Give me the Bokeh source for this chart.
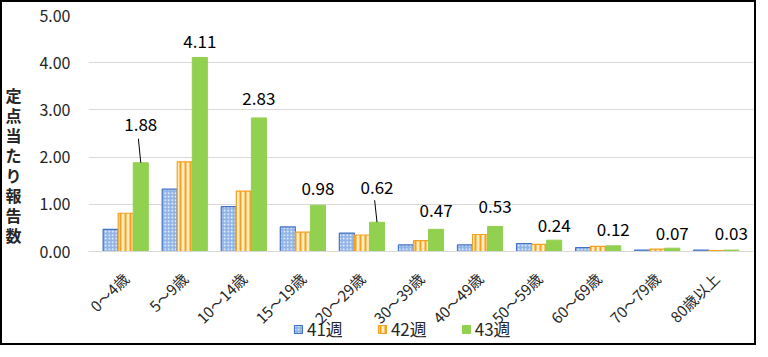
from bokeh.plotting import figure
from bokeh.models import (ColumnDataSource, FactorRange, Legend, LegendItem, NumeralTickFormatter,
                          FixedTicker, LinearAxis, Range1d)
from bokeh.transform import dodge
from bokeh.core.properties import value
from bokeh.embed import file_html
from bokeh.resources import INLINE

# ---------------- data ----------------
categories = ["0～4歳", "5～9歳", "10～14歳", "15～19歳", "20～29歳", "30～39歳",
              "40～49歳", "50～59歳", "60～69歳", "70～79歳", "80歳以上"]
series_names = ["41週", "42週", "43週"]
week41 = [0.47, 1.32, 0.95, 0.52, 0.39, 0.14, 0.14, 0.17, 0.08, 0.03, 0.03]
week42 = [0.81, 1.90, 1.28, 0.41, 0.35, 0.23, 0.36, 0.15, 0.11, 0.05, 0.02]
week43 = [1.88, 4.11, 2.83, 0.98, 0.62, 0.47, 0.53, 0.24, 0.12, 0.07, 0.03]
y_ticks = [0, 1, 2, 3, 4, 5]
y_title = "定点当たり報告数"

# label styling (pixels above the bar top) and leader lines (pixels)
label_lift = [38, 16, 19, 17, 35, 19, 20, 15, 16, 15, 17]
leader_px = [24, 0, 0, 0, 22, 0, 0, 0, 0, 0, 0]

FONT = "Noto Sans CJK JP"
TXT = "#262626"
W, H = 756, 345
FL, FR, FT, FB = 70, 5, 13, 0
ZERO_PX = 249                      # canvas row of the value 0 line
frame_top, frame_bottom = FT, H - FB
ymax = 5.0
px_per_unit = (ZERO_PX - frame_top) / ymax
ymin = -(frame_bottom - ZERO_PX) / px_per_unit
units_per_px = 1.0 / px_per_unit

src = ColumnDataSource(dict(
    cat=categories, w41=week41, w42=week42, w43=week43,
    lab=[f"{v:.2f}" for v in week43],
    yoff=[-l for l in label_lift],
))

xr = FactorRange(*categories, range_padding=0.26 / len(categories), range_padding_units="percent")
p = figure(x_range=xr, y_range=Range1d(ymin, ymax),
           width=W, height=H, output_backend="svg", toolbar_location=None,
           min_border_left=FL, min_border_right=FR, min_border_top=FT, min_border_bottom=FB,
           styles={"border": "2px solid #000000"})
p.outline_line_color = None
p.background_fill_color = "white"
p.border_fill_color = "white"

bw = 0.255
r41 = p.vbar(x=dodge("cat", -bw, range=p.x_range), top="w41", width=bw, source=src,
             fill_color="#8FB3E6", line_color="#4472C4", line_width=1.2,
             hatch_pattern="dot", hatch_color="white", hatch_scale=3.5, hatch_weight=1.2)
r42 = p.vbar(x=dodge("cat", 0, range=p.x_range), top="w42", width=bw, source=src,
             fill_color="#FFEDC2", line_color="#F4A020", line_width=1.2,
             hatch_pattern="vertical_line", hatch_color="#F4A020", hatch_scale=5, hatch_weight=2)
r43 = p.vbar(x=dodge("cat", bw, range=p.x_range), top="w43", width=bw, source=src,
             fill_color="#92D050", line_color="#92D050")

# data labels
p.text(x=dodge("cat", bw, range=p.x_range), y="w43", text="lab", y_offset="yoff", source=src,
       text_align="center", text_baseline="middle", text_font=value(FONT),
       text_font_size="17px", text_color="#000000")

# leader lines
lx = [c for c, l in zip(categories, leader_px) if l > 0]
ly0 = [v for v, l in zip(week43, leader_px) if l > 0]
ly1 = [v + l * units_per_px for v, l in zip(week43, leader_px) if l > 0]
lsrc = ColumnDataSource(dict(cat=lx, y0=ly0, y1=ly1))
p.segment(x0=dodge("cat", bw, range=p.x_range), x1=dodge("cat", bw - 0.04, range=p.x_range),
          y0="y0", y1="y1", source=lsrc, line_color="#000000", line_width=1)

# axes
p.yaxis.ticker = FixedTicker(ticks=y_ticks)
p.yaxis.formatter = NumeralTickFormatter(format="0.00")
p.yaxis.axis_line_color = None
p.yaxis.major_tick_line_color = None
p.yaxis.minor_tick_line_color = None
p.yaxis.major_label_standoff = 12
p.yaxis.major_label_text_font = FONT
p.yaxis.major_label_text_font_size = "16px"
p.yaxis.major_label_text_color = TXT

p.xaxis.fixed_location = 0
p.xaxis.axis_line_color = "#D9D9D9"
p.xaxis.major_tick_line_color = None
p.xaxis.minor_tick_line_color = None
p.xaxis.major_label_orientation = 0.785398
p.xaxis.major_label_standoff = 18
p.xaxis.major_label_text_font = FONT
p.xaxis.major_label_text_font_size = "15px"
p.xaxis.major_label_text_color = TXT

p.xgrid.grid_line_color = None
p.ygrid.grid_line_color = "#D9D9D9"
p.ygrid.grid_line_width = 1

# y title: stacked upright characters as labels of an outer left axis (pixels above the 0 line)
p.extra_y_ranges = {"title": Range1d(-(frame_bottom - ZERO_PX), ZERO_PX - frame_top)}
first_char_px, char_step = 157, 20
title_ticks = [first_char_px - i * char_step for i in range(len(y_title))]
tax = LinearAxis(y_range_name="title", ticker=FixedTicker(ticks=title_ticks),
                 major_label_overrides={t: ch for t, ch in zip(title_ticks, y_title)})
tax.axis_line_color = None
tax.major_tick_line_color = None
tax.minor_tick_line_color = None
tax.major_label_standoff = 9
tax.major_label_text_font = FONT
tax.major_label_text_font_size = "16px"
tax.major_label_text_font_style = "bold"
tax.major_label_text_color = TXT
p.add_layout(tax, "left")

legend = Legend(items=[LegendItem(label=series_names[0], renderers=[r41]),
                       LegendItem(label=series_names[1], renderers=[r42]),
                       LegendItem(label=series_names[2], renderers=[r43])],
                orientation="horizontal", location=(205, 6),
                glyph_width=10, glyph_height=10, label_standoff=4, spacing=34,
                padding=2, margin=0, border_line_color=None, background_fill_alpha=0,
                label_text_font=FONT, label_text_font_size="17px", label_text_color=TXT)
p.add_layout(legend, "center")

open("out.html", "w").write(file_html(p, INLINE))
